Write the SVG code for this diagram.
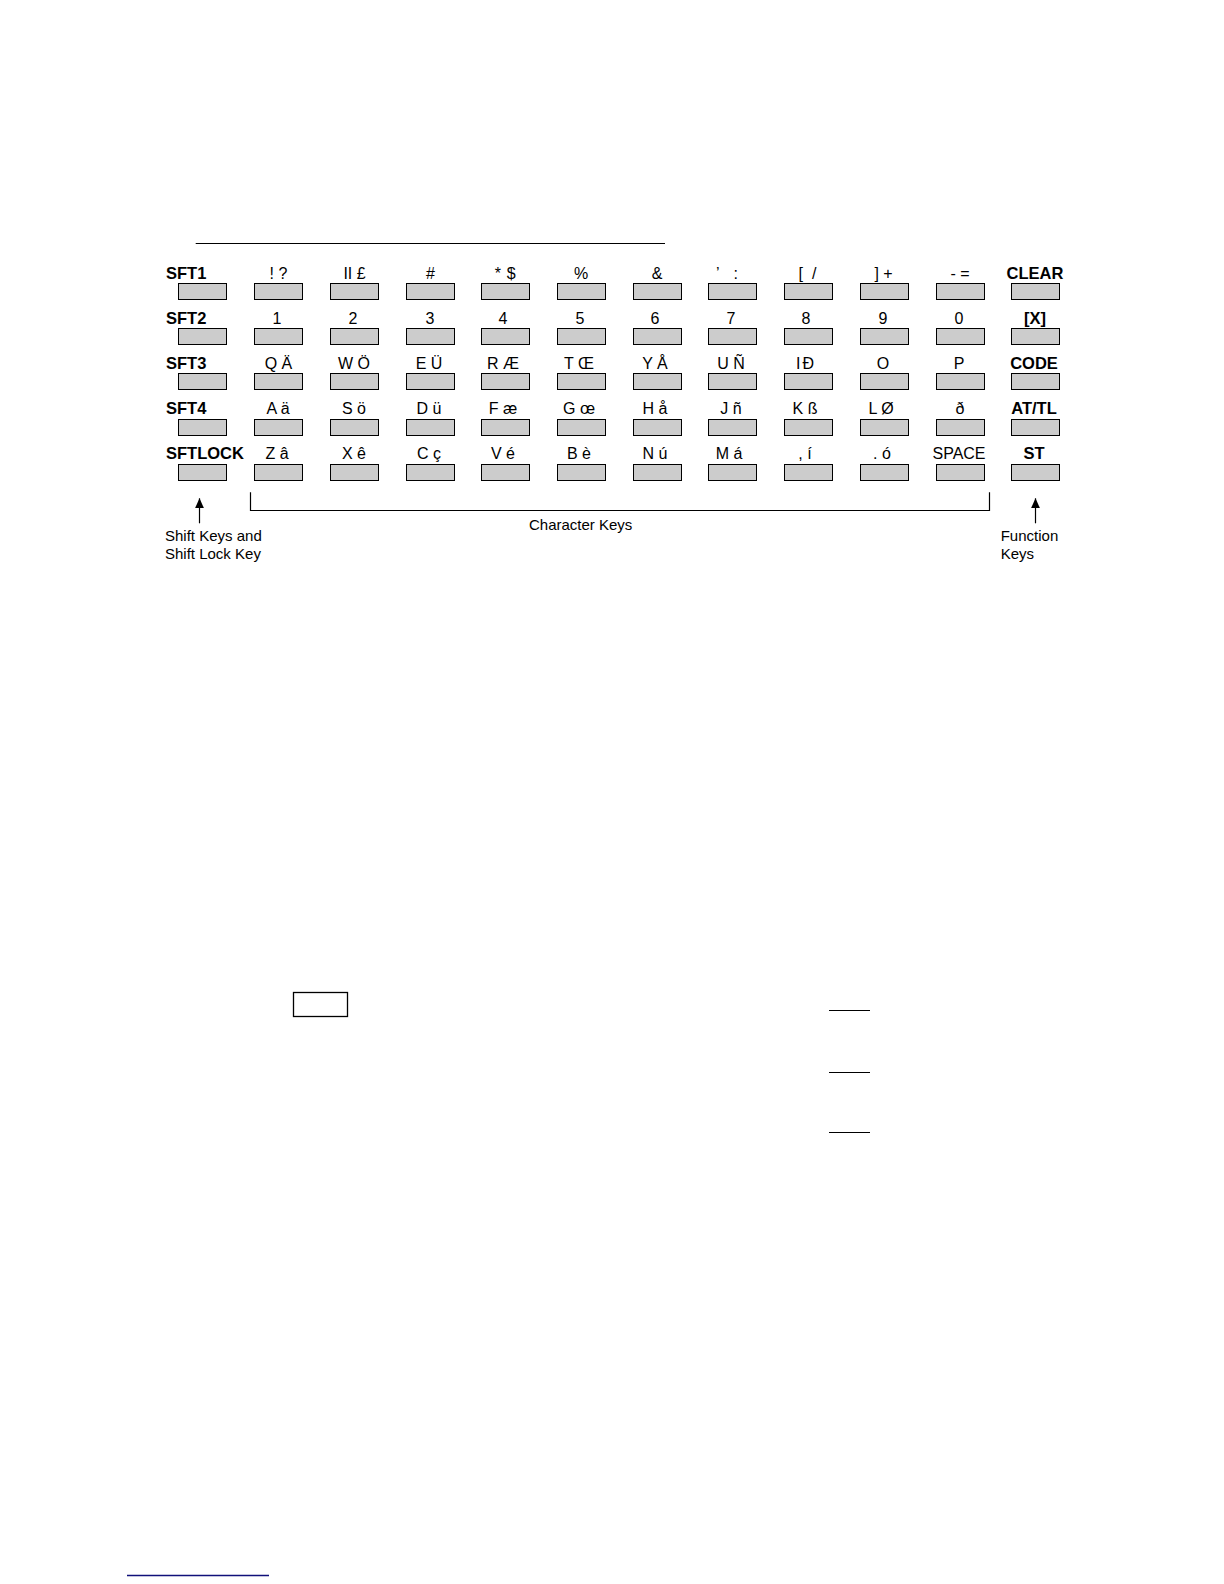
<svg xmlns="http://www.w3.org/2000/svg" width="1224" height="1584" viewBox="0 0 1224 1584">
<style>
.key{fill:#cccccc;stroke:#000;stroke-width:1}
.lbl{font-family:"Liberation Sans",Arial,Helvetica,sans-serif;font-size:16px;fill:#000;text-anchor:middle}
.b{font-weight:bold;font-size:16.5px}
.l{text-anchor:start}
.ann{font-family:"Liberation Sans",Arial,Helvetica,sans-serif;font-size:15px;fill:#000}
.ln{stroke:#000;stroke-width:1.2;fill:none}
</style>
<defs>
<marker id="ah" viewBox="0 0 10 10" refX="10" refY="5" markerWidth="10" markerHeight="10" orient="auto" markerUnits="userSpaceOnUse">
<path d="M0,0.5 L10,5 L0,9.5 z" fill="#000"/>
</marker>
</defs>
<rect width="1224" height="1584" fill="#fff"/>
<line class="ln" x1="195.7" y1="243.5" x2="665" y2="243.5"/>

<!-- Row 1 -->
<g id="k-sft1"><rect class="key" x="178.5" y="283.5" width="48" height="16"/><text class="lbl b l" x="166" y="278.5">SFT1</text></g>
<g id="k-excl"><rect class="key" x="254.5" y="283.5" width="48" height="16"/><text class="lbl" x="278.5" y="278.5">! ?</text></g>
<g id="k-quot"><rect class="key" x="330.5" y="283.5" width="48" height="16"/><text class="lbl" x="354.5" y="278.5">II £</text></g>
<g id="k-hash"><rect class="key" x="406.5" y="283.5" width="48" height="16"/><text class="lbl" x="430.5" y="278.5">#</text></g>
<g id="k-star"><rect class="key" x="481.5" y="283.5" width="48" height="16"/><text class="lbl" x="505.2" y="278.5">*<tspan dx="6">$</tspan></text></g>
<g id="k-pct"><rect class="key" x="557.5" y="283.5" width="48" height="16"/><text class="lbl" x="581.2" y="278.5">%</text></g>
<g id="k-amp"><rect class="key" x="633.5" y="283.5" width="48" height="16"/><text class="lbl" x="657.2" y="278.5">&amp;</text></g>
<g id="k-apos"><rect class="key" x="708.5" y="283.5" width="48" height="16"/><text class="lbl" x="727" y="278.5">’<tspan dx="14">:</tspan></text></g>
<g id="k-brk"><rect class="key" x="784.5" y="283.5" width="48" height="16"/><text class="lbl" x="807.5" y="278.5">[<tspan dx="9">/</tspan></text></g>
<g id="k-rbrk"><rect class="key" x="860.5" y="283.5" width="48" height="16"/><text class="lbl" x="883.5" y="278.5">] +</text></g>
<g id="k-minus"><rect class="key" x="936.5" y="283.5" width="48" height="16"/><text class="lbl" x="960" y="278.5">- =</text></g>
<g id="k-clear"><rect class="key" x="1011.5" y="283.5" width="48" height="16"/><text class="lbl b" x="1035" y="278.5">CLEAR</text></g>

<!-- Row 2 -->
<g id="k-sft2"><rect class="key" x="178.5" y="328.5" width="48" height="16"/><text class="lbl b l" x="166" y="323.6">SFT2</text></g>
<g id="k-1"><rect class="key" x="254.5" y="328.5" width="48" height="16"/><text class="lbl" x="277" y="323.6">1</text></g>
<g id="k-2"><rect class="key" x="330.5" y="328.5" width="48" height="16"/><text class="lbl" x="353" y="323.6">2</text></g>
<g id="k-3"><rect class="key" x="406.5" y="328.5" width="48" height="16"/><text class="lbl" x="430" y="323.6">3</text></g>
<g id="k-4"><rect class="key" x="481.5" y="328.5" width="48" height="16"/><text class="lbl" x="503" y="323.6">4</text></g>
<g id="k-5"><rect class="key" x="557.5" y="328.5" width="48" height="16"/><text class="lbl" x="580" y="323.6">5</text></g>
<g id="k-6"><rect class="key" x="633.5" y="328.5" width="48" height="16"/><text class="lbl" x="655" y="323.6">6</text></g>
<g id="k-7"><rect class="key" x="708.5" y="328.5" width="48" height="16"/><text class="lbl" x="731" y="323.6">7</text></g>
<g id="k-8"><rect class="key" x="784.5" y="328.5" width="48" height="16"/><text class="lbl" x="806" y="323.6">8</text></g>
<g id="k-9"><rect class="key" x="860.5" y="328.5" width="48" height="16"/><text class="lbl" x="883" y="323.6">9</text></g>
<g id="k-0"><rect class="key" x="936.5" y="328.5" width="48" height="16"/><text class="lbl" x="959" y="323.6">0</text></g>
<g id="k-x"><rect class="key" x="1011.5" y="328.5" width="48" height="16"/><text class="lbl b" x="1035" y="323.6">[X]</text></g>

<!-- Row 3 -->
<g id="k-sft3"><rect class="key" x="178.5" y="373.5" width="48" height="16"/><text class="lbl b l" x="166" y="368.7">SFT3</text></g>
<g id="k-q"><rect class="key" x="254.5" y="373.5" width="48" height="16"/><text class="lbl" x="278.5" y="368.7">Q Ä</text></g>
<g id="k-w"><rect class="key" x="330.5" y="373.5" width="48" height="16"/><text class="lbl" x="354" y="368.7">W Ö</text></g>
<g id="k-e"><rect class="key" x="406.5" y="373.5" width="48" height="16"/><text class="lbl" x="429" y="368.7">E Ü</text></g>
<g id="k-r"><rect class="key" x="481.5" y="373.5" width="48" height="16"/><text class="lbl" x="503" y="368.7">R Æ</text></g>
<g id="k-t"><rect class="key" x="557.5" y="373.5" width="48" height="16"/><text class="lbl" x="579" y="368.7">T Œ</text></g>
<g id="k-y"><rect class="key" x="633.5" y="373.5" width="48" height="16"/><text class="lbl" x="655" y="368.7">Y Å</text></g>
<g id="k-u"><rect class="key" x="708.5" y="373.5" width="48" height="16"/><text class="lbl" x="731" y="368.7">U Ñ</text></g>
<g id="k-i"><rect class="key" x="784.5" y="373.5" width="48" height="16"/><text class="lbl" x="805" y="368.7">I<tspan dx="2">Đ</tspan></text></g>
<g id="k-o"><rect class="key" x="860.5" y="373.5" width="48" height="16"/><text class="lbl" x="883" y="368.7">O</text></g>
<g id="k-p"><rect class="key" x="936.5" y="373.5" width="48" height="16"/><text class="lbl" x="959" y="368.7">P</text></g>
<g id="k-code"><rect class="key" x="1011.5" y="373.5" width="48" height="16"/><text class="lbl b" x="1034" y="368.7">CODE</text></g>

<!-- Row 4 -->
<g id="k-sft4"><rect class="key" x="178.5" y="419.5" width="48" height="16"/><text class="lbl b l" x="166" y="414">SFT4</text></g>
<g id="k-a"><rect class="key" x="254.5" y="419.5" width="48" height="16"/><text class="lbl" x="278" y="414">A ä</text></g>
<g id="k-s"><rect class="key" x="330.5" y="419.5" width="48" height="16"/><text class="lbl" x="354" y="414">S ö</text></g>
<g id="k-d"><rect class="key" x="406.5" y="419.5" width="48" height="16"/><text class="lbl" x="429" y="414">D ü</text></g>
<g id="k-f"><rect class="key" x="481.5" y="419.5" width="48" height="16"/><text class="lbl" x="503" y="414">F æ</text></g>
<g id="k-g"><rect class="key" x="557.5" y="419.5" width="48" height="16"/><text class="lbl" x="579" y="414">G œ</text></g>
<g id="k-h"><rect class="key" x="633.5" y="419.5" width="48" height="16"/><text class="lbl" x="655" y="414">H å</text></g>
<g id="k-j"><rect class="key" x="708.5" y="419.5" width="48" height="16"/><text class="lbl" x="731" y="414">J ñ</text></g>
<g id="k-k"><rect class="key" x="784.5" y="419.5" width="48" height="16"/><text class="lbl" x="805" y="414">K ß</text></g>
<g id="k-l"><rect class="key" x="860.5" y="419.5" width="48" height="16"/><text class="lbl" x="881" y="414">L Ø</text></g>
<g id="k-eth"><rect class="key" x="936.5" y="419.5" width="48" height="16"/><text class="lbl" x="960" y="414">ð</text></g>
<g id="k-attl"><rect class="key" x="1011.5" y="419.5" width="48" height="16"/><text class="lbl b" x="1034" y="414">AT/TL</text></g>

<!-- Row 5 -->
<g id="k-sftlock"><rect class="key" x="178.5" y="464.5" width="48" height="16"/><text class="lbl b l" x="166" y="459.2">SFTLOCK</text></g>
<g id="k-z"><rect class="key" x="254.5" y="464.5" width="48" height="16"/><text class="lbl" x="277" y="459.2">Z â</text></g>
<g id="k-xx"><rect class="key" x="330.5" y="464.5" width="48" height="16"/><text class="lbl" x="354" y="459.2">X ê</text></g>
<g id="k-c"><rect class="key" x="406.5" y="464.5" width="48" height="16"/><text class="lbl" x="429" y="459.2">C ç</text></g>
<g id="k-v"><rect class="key" x="481.5" y="464.5" width="48" height="16"/><text class="lbl" x="503" y="459.2">V é</text></g>
<g id="k-b"><rect class="key" x="557.5" y="464.5" width="48" height="16"/><text class="lbl" x="579" y="459.2">B è</text></g>
<g id="k-n"><rect class="key" x="633.5" y="464.5" width="48" height="16"/><text class="lbl" x="655" y="459.2">N ú</text></g>
<g id="k-m"><rect class="key" x="708.5" y="464.5" width="48" height="16"/><text class="lbl" x="729" y="459.2">M á</text></g>
<g id="k-comma"><rect class="key" x="784.5" y="464.5" width="48" height="16"/><text class="lbl" x="805" y="459.2">, í</text></g>
<g id="k-period"><rect class="key" x="860.5" y="464.5" width="48" height="16"/><text class="lbl" x="882" y="459.2">. ó</text></g>
<g id="k-space"><rect class="key" x="936.5" y="464.5" width="48" height="16"/><text class="lbl" x="959" y="459.2">SPACE</text></g>
<g id="k-st"><rect class="key" x="1011.5" y="464.5" width="48" height="16"/><text class="lbl b" x="1034" y="459.2">ST</text></g>

<!-- Connectors / callouts -->
<g id="connectors">
<line class="ln" x1="199.5" y1="523.3" x2="199.5" y2="498.3" marker-end="url(#ah)"/>
<polyline class="ln" points="250.5,492.3 250.5,510.5 989.5,510.5 989.5,492.3"/>
<line class="ln" x1="1035.5" y1="523.3" x2="1035.5" y2="498.3" marker-end="url(#ah)"/>
</g>

<g id="lbl-shift"><text class="ann" x="165" y="541">Shift Keys and</text><text class="ann" x="165" y="558.7">Shift Lock Key</text></g>
<g id="lbl-char"><text class="ann" x="529" y="530">Character Keys</text></g>
<g id="lbl-func"><text class="ann" x="1000.7" y="541">Function</text><text class="ann" x="1000.7" y="558.7">Keys</text></g>

<!-- Lower page marks -->
<rect x="293.5" y="992.5" width="54" height="24" fill="none" stroke="#000" stroke-width="1.3"/>
<line class="ln" x1="829" y1="1010.5" x2="870" y2="1010.5"/>
<line class="ln" x1="829" y1="1072.5" x2="870" y2="1072.5"/>
<line class="ln" x1="829" y1="1132.5" x2="870" y2="1132.5"/>
<line x1="127" y1="1575.5" x2="269" y2="1575.5" stroke="#10107a" stroke-width="1.4"/>
</svg>
